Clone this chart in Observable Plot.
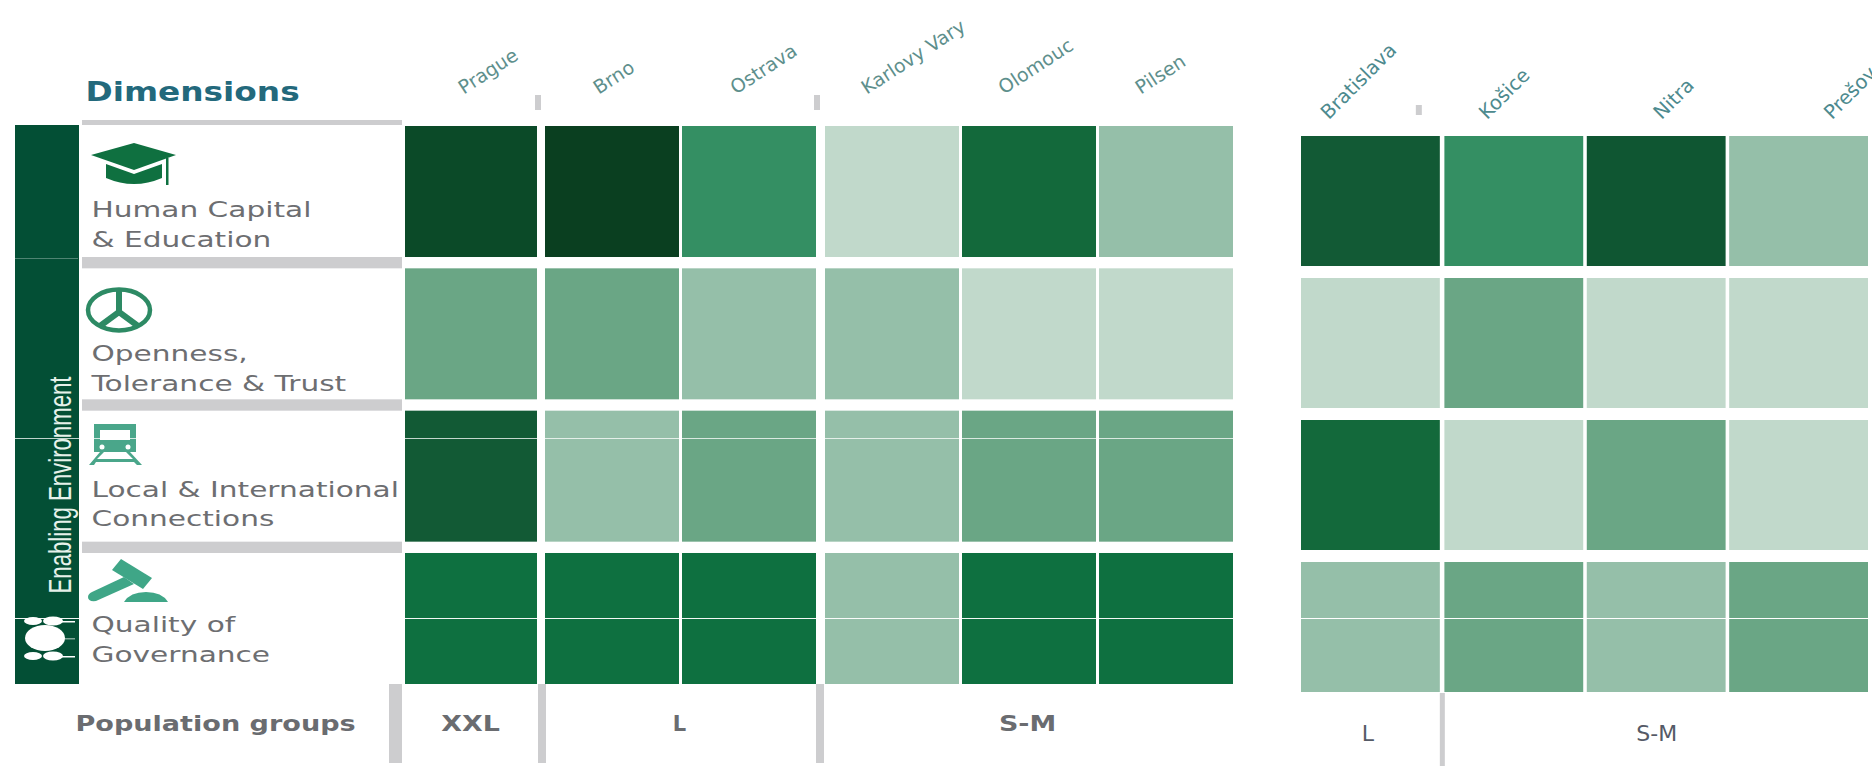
<!DOCTYPE html>
<html>
<head>
<meta charset="utf-8">
<script src="https://cdn.jsdelivr.net/npm/d3@7"></script>
<script src="https://cdn.jsdelivr.net/npm/@observablehq/plot@0.6"></script>
<style>
html,body{margin:0;padding:0;background:#fff;overflow:hidden}
#chart{position:relative;width:1872px;height:766px;overflow:hidden}
#chart svg{position:absolute;left:0;top:0}
</style>
</head>
<body>
<div id="chart"></div>
<script>
const dimensions = ["Human Capital & Education","Openness, Tolerance & Trust","Local & International Connections","Quality of Governance"];
const dimensionLines = [["Human Capital","& Education"],["Openness,","Tolerance & Trust"],["Local & International","Connections"],["Quality of","Governance"]];

const czechCities = ["Prague","Brno","Ostrava","Karlovy Vary","Olomouc","Pilsen"];
const czechGroups = ["XXL","L","L","S-M","S-M","S-M"];
const czechHumanCapital = [9,10,4,1,6,2];
const czechOpenness     = [3,3,2,2,1,1];
const czechConnections  = [7,2,3,2,3,3];
const czechGovernance   = [5,5,5,2,5,5];

const slovakCities = ["Bratislava","Košice","Nitra","Prešov"];
const slovakGroups = ["L","S-M","S-M","S-M"];
const slovakHumanCapital = [7,4,8,2];
const slovakOpenness     = [1,3,1,1];
const slovakConnections  = [6,1,3,1];
const slovakGovernance   = [2,3,2,3];

const tierDomain = [1,2,3,4,5,6,7,8,9,10];
const tierColors = ["#c1d9cb","#95bfa9","#6aa685","#348f63","#0e7040","#13693b","#125a35","#0f5632","#0b4a28","#0a3f20"];

const table = (cities, groups, series) =>
  cities.flatMap((city,i) => dimensions.map((dimension,j) => ({city, group:groups[i], dimension, tier:series[j][i]})));
const czech = table(czechCities, czechGroups, [czechHumanCapital,czechOpenness,czechConnections,czechGovernance]);
const slovak = table(slovakCities, slovakGroups, [slovakHumanCapital,slovakOpenness,slovakConnections,slovakGovernance]);

const colorScale = {type:"ordinal", domain:tierDomain, range:tierColors};
const gray = "#cdcdcf";
const labelFirstLine = [18,20,13,6];
const sans = "DejaVu Sans";

const dimensionTextMarks = dimensions.flatMap((dimension,i)=>dimensionLines[i].map((text,k)=>
  Plot.text([text],{y:()=>dimension,text:d=>d,frameAnchor:"left",textAnchor:"start",dx:91,dy:labelFirstLine[i]+k*29.5,
    className:"stretch-line",fontFamily:sans,fontSize:22,fill:"#6d6e71"})));

const leftFurniture = (index,{x,y}) => {
  const g = d3.create("svg:g");
  const step = y(dimensions[1]) - y(dimensions[0]);
  const bw = y.bandwidth();
  const top = y(dimensions[0]);
  g.append("rect").attr("x",15).attr("y",top-1).attr("width",64).attr("height",step*3+bw+1).attr("fill","#034f35");
  g.append("rect").attr("x",82).attr("y",top-6).attr("width",320).attr("height",5).attr("fill",gray);
  [0,1,2].forEach(i=>g.append("rect").attr("x",82).attr("y",y(dimensions[i])+bw).attr("width",320).attr("height",step-bw).attr("fill",gray));
  const bottom = top+step*3+bw;
  g.append("rect").attr("x",389).attr("y",bottom).attr("width",13).attr("height",79).attr("fill",gray);
  g.append("rect").attr("x",x("Prague")+x.bandwidth()-1).attr("y",bottom).attr("width",8).attr("height",79).attr("fill",gray);
  g.append("rect").attr("x",x("Ostrava")+x.bandwidth()+3).attr("y",bottom).attr("width",8).attr("height",79).attr("fill",gray);
  g.append("rect").attr("x",x("Prague")+x.bandwidth()-4).attr("y",95).attr("width",6).attr("height",15).attr("fill",gray);
  g.append("rect").attr("x",x("Ostrava")+x.bandwidth()+1).attr("y",95).attr("width",6).attr("height",15).attr("fill",gray);
  return g.node();
};

const icons = () => {
  const g = d3.create("svg:g");
  g.html(`
  <g fill="#0f7040">
    <path d="M91 155 L134 143 L176 155 L134 170 Z"/>
    <path d="M106 164 L134 174 L162 164 L162 178 Q134 190 106 178 Z"/>
    <rect x="166" y="158" width="2.5" height="27"/>
  </g>
  <g fill="none" stroke="#2d8a64" stroke-width="4.5">
    <ellipse cx="119" cy="310" rx="31" ry="20.5"/>
    <path d="M119 290 L119 312 M119 312 L100 326 M119 312 L138 326" stroke-width="6"/>
  </g>
  <g fill="#4aa68a">
    <path d="M94 424 H136 V452 H94 Z M100 430 V440 H130 V430 Z" fill-rule="evenodd"/>
    <circle cx="102" cy="447" r="2.5" fill="#fff"/><circle cx="128" cy="447" r="2.5" fill="#fff"/>
    <path d="M89 465 L100 452 H104 L97 459 H133 L126 452 H130 L142 465 H137 L134 462 H96 L94 465 Z"/>
  </g>
  <g fill="#3fa687">
    <path d="M121 559 L152 578 L143 589 L112 570 Z"/>
    <path d="M124 577 L134 584 L96 601 Q88 602 88 597 Q88 594 92 592 Z"/>
    <path d="M124 602 Q130 592 146 592 Q162 592 168 602 Z"/>
  </g>
  <g fill="#fff">
    <ellipse cx="45" cy="638" rx="20" ry="13"/>
    <ellipse cx="33" cy="621" rx="9" ry="4"/><ellipse cx="53" cy="621" rx="10" ry="4.5"/>
    <ellipse cx="33" cy="656" rx="9" ry="4"/><ellipse cx="53" cy="656" rx="10" ry="4.5"/>
    <rect x="58" y="621" width="17" height="1.5" /><rect x="60" y="638" width="15" height="1.5" opacity=".5"/><rect x="58" y="656" width="17" height="1.5"/>
  </g>`);
  return g.node();
};

const scanLines = (ranges) => () => {
  const g = d3.create("svg:g");
  ranges.forEach(([y,x1,x2,o])=>g.append("rect").attr("x",x1).attr("y",y).attr("width",x2-x1).attr("height",1).attr("fill","#fff").attr("opacity",o));
  return g.node();
};

const cityLabel = (cities, dx) => Plot.text(cities,{x:d=>d,text:d=>d,frameAnchor:"top",dy:83,dx,rotate:-33,textAnchor:"start",fontFamily:sans,fontSize:19,fill:"#5e8f8c"});

const left = Plot.plot({
  width:1872, height:766, margin:0,
  style:{background:"transparent"},
  x:{type:"band", domain:czechCities, range:[405,1224], paddingInner:.022, paddingOuter:0, axis:null, round:false},
  y:{type:"band", domain:dimensions, range:[126,684], paddingInner:.0796, paddingOuter:0, axis:null, round:false},
  color:colorScale,
  marks:[
    leftFurniture,
    Plot.cell(czech.filter(d=>d.group==="XXL"),{x:"city",y:"dimension",fill:"tier",insetRight:2}),
    Plot.cell(czech.filter(d=>d.group==="L"),{x:"city",y:"dimension",fill:"tier",dx:3}),
    Plot.cell(czech.filter(d=>d.group==="S-M"),{x:"city",y:"dimension",fill:"tier",dx:9}),
    icons,
    scanLines([[438,15,1234,.75],[618,15,1234,.95],[258,15,78,.3]]),
    ...dimensionTextMarks,
    Plot.text(["Dimensions"],{frameAnchor:"top-left",dx:85,dy:82,text:d=>d,lineAnchor:"top",
      className:"stretch-dim",fontFamily:sans,fontWeight:"bold",fontSize:26,fill:"#23697c"}),
    Plot.text(["Enabling Environment"],{frameAnchor:"top-left",dx:48.5,dy:593,text:d=>d,rotate:-90,textAnchor:"start",
      className:"stretch-bar",fontFamily:"Liberation Sans",fontSize:31,fill:"#e6f1ea"}),
    Plot.text(["Population groups"],{frameAnchor:"top-left",dx:75,dy:716,text:d=>d,textAnchor:"start",
      className:"stretch-pop",fontFamily:sans,fontWeight:"bold",fontSize:20.5,fill:"#6a6c70"}),
    cityLabel(czechCities.slice(0,1),-16),
    cityLabel(czechCities.slice(1,3),-18),
    cityLabel(czechCities.slice(3),-24),
    Plot.text(["XXL"],{x:()=>"Prague",text:d=>d,frameAnchor:"top",dy:716,dx:-2,className:"stretch-head",fontFamily:sans,fontWeight:"bold",fontSize:21,fill:"#6a6c70"}),
    Plot.text(["L"],{x:()=>"Brno",text:d=>d,frameAnchor:"top",dy:716,dx:70,fontFamily:sans,fontWeight:"bold",fontSize:21,fill:"#6a6c70"}),
    Plot.text(["S-M"],{x:()=>"Olomouc",text:d=>d,frameAnchor:"top",dy:716,dx:7,className:"stretch-head",fontFamily:sans,fontWeight:"bold",fontSize:21,fill:"#6a6c70"})
  ]
});

const slovakLabelShift = [-53,-37,-5,23];

const right = Plot.plot({
  width:1872, height:766, margin:0,
  style:{background:"transparent"},
  x:{type:"band", domain:slovakCities, range:[1302,1868], paddingInner:.025, paddingOuter:0, axis:null, round:false},
  y:{type:"band", domain:dimensions, range:[136,692], paddingInner:.0845, paddingOuter:0, axis:null, round:false},
  color:colorScale,
  marks:[
    Plot.cell(slovak.filter(d=>d.group==="L"),{x:"city",y:"dimension",fill:"tier",dx:-1}),
    Plot.cell(slovak.filter(d=>d.group==="S-M"),{x:"city",y:"dimension",fill:"tier"}),
    (index,{x,y}) => {
      const g = d3.create("svg:g");
      const edge = x("Bratislava")+x.bandwidth()-1;
      g.append("rect").attr("x",edge).attr("y",693).attr("width",5).attr("height",73).attr("fill",gray);
      g.append("rect").attr("x",edge-24).attr("y",105).attr("width",6).attr("height",10).attr("fill",gray);
      g.append("rect").attr("x",1301).attr("y",618).attr("width",571).attr("height",1).attr("fill","#fff");
      return g.node();
    },
    ...slovakCities.map((c,i)=>Plot.text([c],{x:d=>d,text:d=>d,frameAnchor:"top",dy:110,dx:slovakLabelShift[i],rotate:-45,textAnchor:"start",fontFamily:sans,fontSize:19.5,fill:"#4d8a8e"})),
    Plot.text(["L"],{x:()=>"Bratislava",text:d=>d,frameAnchor:"top",dy:725,dx:-4,fontFamily:sans,fontSize:22,fill:"#555a66"}),
    Plot.text(["S-M"],{x:()=>"Nitra",text:d=>d,frameAnchor:"top",dy:725,fontFamily:sans,fontSize:22,fill:"#555a66"})
  ]
});

const host = document.getElementById("chart");
host.append(left, right);
const stretch = (sel,k) => left.querySelectorAll(sel+" text").forEach(t=>{
  t.setAttribute("textLength", k>10 ? k : t.getComputedTextLength()*k);
  t.setAttribute("lengthAdjust","spacingAndGlyphs");
});
stretch(".stretch-line",1.345);
stretch(".stretch-head",1.28);
stretch(".stretch-dim",1.26);
stretch(".stretch-pop",1.32);
stretch(".stretch-bar",217);
</script>
</body>
</html>
